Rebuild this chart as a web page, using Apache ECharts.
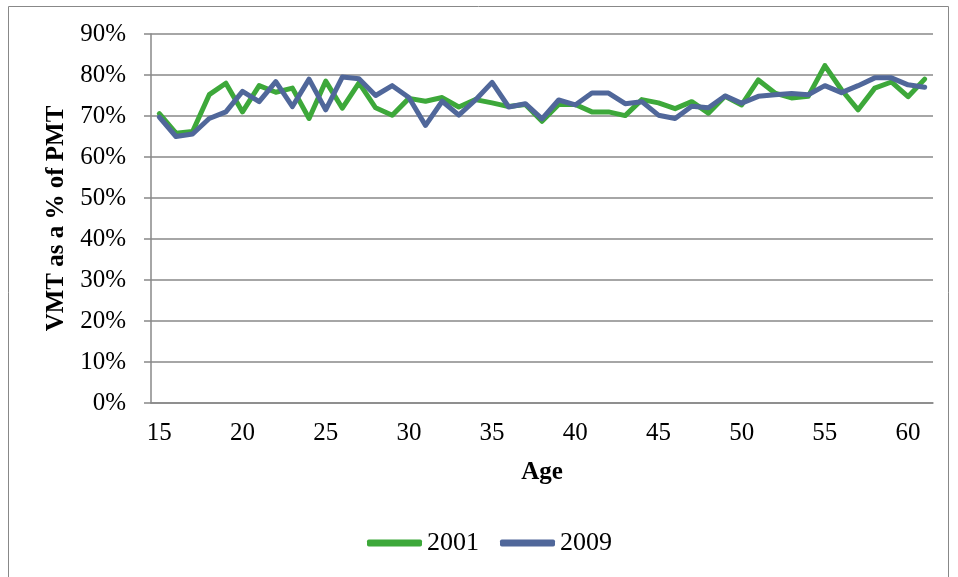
<!DOCTYPE html>
<html>
<head>
<meta charset="utf-8">
<script src="https://cdn.jsdelivr.net/npm/echarts@6/dist/echarts.min.js"></script>
<style>
html,body{margin:0;padding:0;background:#fff;}
#chart{width:958px;height:577px;}
</style>
</head>
<body>
<div id="chart"></div>
<script>
var ages = ['15','16','17','18','19','20','21','22','23','24','25','26','27','28','29','30','31','32','33','34','35','36','37','38','39','40','41','42','43','44','45','46','47','48','49','50','51','52','53','54','55','56','57','58','59','60','61'];
var series2001 = [70.6,65.8,66.2,75.2,78.0,71.0,77.4,75.8,76.8,69.4,78.5,71.9,78.1,72.0,70.2,74.3,73.6,74.5,72.2,74.0,73.2,72.3,72.8,68.7,72.8,72.8,71.0,71.0,70.1,74.0,73.2,71.8,73.5,70.7,74.8,72.7,78.8,75.6,74.4,74.8,82.3,76.4,71.5,76.8,78.3,74.7,79.0];
var series2009 = [69.7,65.0,65.6,69.4,71.0,76.0,73.5,78.4,72.3,79.0,71.5,79.5,79.1,75.0,77.4,74.5,67.7,73.6,70.2,73.9,78.2,72.2,73.0,69.3,73.9,72.7,75.6,75.6,73.0,73.5,70.2,69.4,72.4,72.0,74.9,73.1,74.8,75.2,75.5,75.2,77.4,75.7,77.4,79.3,79.3,77.6,77.0];
var seriesNames = ['2001','2009'];
var yMin = 0, yMax = 90, yStep = 10;

var FONT = 'Liberation Serif';
var GRAY = '#888888';
var chart = echarts.init(document.getElementById('chart'), null, {renderer:'canvas'});
chart.setOption({
  animation:false,
  backgroundColor:'#ffffff',
  graphic:[{type:'rect', shape:{x:8.5,y:6.5,width:940,height:620}, style:{fill:'none', stroke:GRAY, lineWidth:1}}],
  grid:{left:151, right:25, top:34, bottom:174, containLabel:false},
  legend:{
    data:seriesNames, left:362, top:525, itemWidth:55, itemHeight:7, itemGap:21,
    icon:'roundRect',
    textStyle:{fontFamily:FONT, fontSize:26, color:'#000'}
  },
  xAxis:{
    type:'category', data:ages, boundaryGap:true,
    name:'Age', nameLocation:'middle', nameGap:57,
    nameTextStyle:{fontFamily:FONT, fontSize:25, fontWeight:'bold', color:'#000'},
    axisLine:{lineStyle:{color:GRAY, width:1.5}},
    axisTick:{interval:0, length:6, lineStyle:{color:GRAY, width:1.5}},
    axisLabel:{interval:4, margin:18, fontFamily:FONT, fontSize:25, color:'#000'},
    splitLine:{show:false}
  },
  yAxis:{
    type:'value', min:yMin, max:yMax, interval:yStep,
    name:'VMT as a % of PMT', nameLocation:'middle', nameGap:82,
    nameTextStyle:{fontFamily:FONT, fontSize:25, fontWeight:'bold', color:'#000'},
    axisLine:{show:true, lineStyle:{color:GRAY, width:1.5}},
    axisTick:{show:true, length:7, lineStyle:{color:GRAY, width:1.5}},
    axisLabel:{margin:25, fontFamily:FONT, fontSize:25, color:'#000', formatter:'{value}%'},
    splitLine:{show:true, lineStyle:{color:GRAY, width:1.5}}
  },
  series:[
    {name:seriesNames[0], type:'line', data:series2001, symbol:'none', color:'#3DA83A',
     lineStyle:{width:5, color:'#3DA83A', cap:'round', join:'round'}},
    {name:seriesNames[1], type:'line', data:series2009, symbol:'none', color:'#50679A',
     lineStyle:{width:5, color:'#50679A', cap:'round', join:'round'}}
  ]
});
</script>
</body>
</html>
